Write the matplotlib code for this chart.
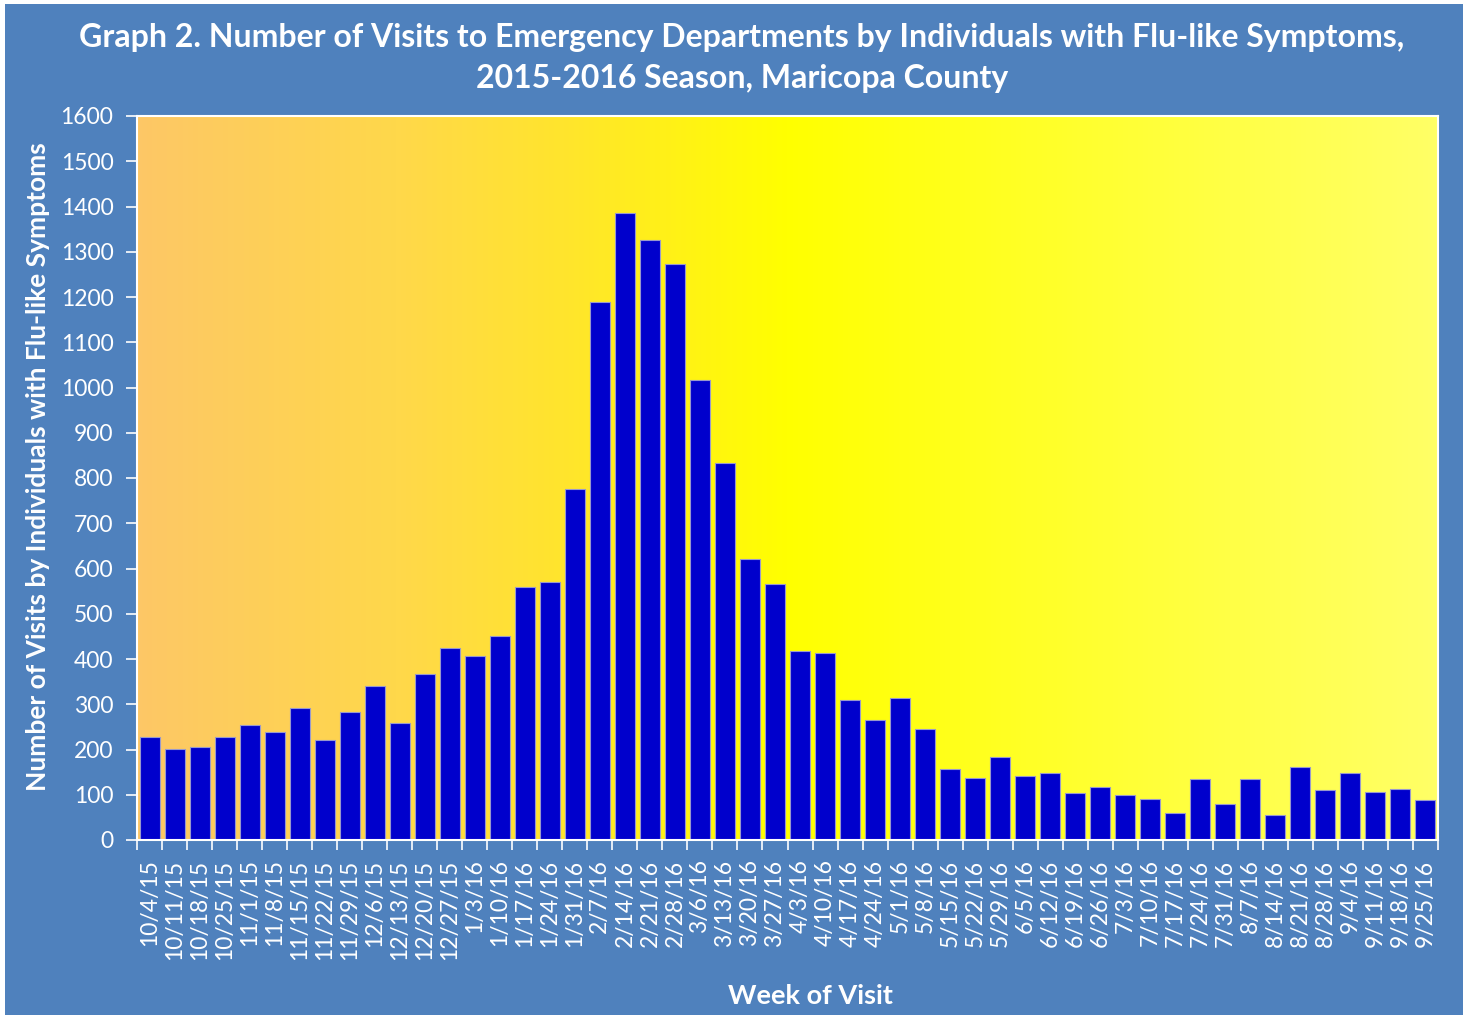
import numpy as np
import matplotlib
matplotlib.use("Agg")
import matplotlib.pyplot as plt
from matplotlib.colors import LinearSegmentedColormap
from matplotlib.patches import Rectangle

# weekly ED visits, 2015-2016 season
weeks = ["10/4/15", "10/11/15", "10/18/15", "10/25/15", "11/1/15", "11/8/15",
         "11/15/15", "11/22/15", "11/29/15", "12/6/15", "12/13/15", "12/20/15",
         "12/27/15", "1/3/16", "1/10/16", "1/17/16", "1/24/16", "1/31/16",
         "2/7/16", "2/14/16", "2/21/16", "2/28/16", "3/6/16", "3/13/16",
         "3/20/16", "3/27/16", "4/3/16", "4/10/16", "4/17/16", "4/24/16",
         "5/1/16", "5/8/16", "5/15/16", "5/22/16", "5/29/16", "6/5/16",
         "6/12/16", "6/19/16", "6/26/16", "7/3/16", "7/10/16", "7/17/16",
         "7/24/16", "7/31/16", "8/7/16", "8/14/16", "8/21/16", "8/28/16",
         "9/4/16", "9/11/16", "9/18/16", "9/25/16"]
visits = [228, 201, 205, 228, 254, 239, 292, 221, 283, 340, 259, 367,
          424, 407, 451, 559, 570, 776, 1189, 1386, 1326, 1273, 1017, 833,
          621, 566, 418, 413, 309, 265, 314, 245, 157, 137, 183, 141,
          148, 104, 117, 99, 90, 60, 135, 80, 135, 55, 161, 110,
          148, 106, 113, 88]

bg = "#4F81BD"
plt.rcParams['font.family'] = ['Lato', 'DejaVu Sans']

fig = plt.figure(figsize=(14.68, 10.15), dpi=100, facecolor="white")
# blue chart area with thin white margin
fig.patches.append(Rectangle((5 / 1468, 0), (1463 - 5) / 1468, 1 - 4 / 1015,
                             transform=fig.transFigure, facecolor=bg, edgecolor="none", zorder=-10))

ax = fig.add_axes([137 / 1468, 1 - 840 / 1015, (1438 - 137) / 1468, (840 - 116) / 1015])

# gradient fill of the plot area
grad = LinearSegmentedColormap.from_list("g", [(0.0, "#FDC766"), (0.2, "#FFD84A"),
                                               (0.33, "#FFE52C"), (0.5, "#FFFF00"),
                                               (1.0, "#FFFF66")])
ax.imshow(np.linspace(0, 1, 256)[None, :], aspect="auto", cmap=grad,
          extent=[0, 1, 0, 1], transform=ax.transAxes, zorder=0)

x = np.arange(len(weeks))
ax.bar(x, visits, width=0.8, color="#0000CC", edgecolor="#9999CC", linewidth=0.8, zorder=2)

ax.set_xlim(-0.5, len(weeks) - 0.5)
ax.set_ylim(0, 1600)
ax.set_yticks(range(0, 1601, 100))
ax.set_xticks(x)
ax.set_xticklabels(weeks, rotation=90)
ax.set_xticks(np.arange(-0.5, len(weeks), 1), minor=True)
ax.tick_params(axis="x", which="major", length=0, colors="white", labelsize=16.5, pad=14)
ax.tick_params(axis="x", which="minor", length=7, color="white", width=1.2)
ax.tick_params(axis="y", length=8, color="white", width=1.2, labelcolor="white", labelsize=16.5, pad=9)
for s in ax.spines.values():
    s.set_color("white")
    s.set_linewidth(1.5)

fig.text(38 / 1468, 1 - 467 / 1015, "Number of Visits by Individuals with Flu-like Symptoms",
         color="white", fontsize=19, fontweight="bold", rotation=90, ha="center", va="center")
fig.text(810 / 1468, 1 - 996 / 1015, "Week of Visit", color="white", fontsize=19.5,
         fontweight="bold", ha="center", va="center")
fig.text(742 / 1468, 1 - 58 / 1015,
         "Graph 2. Number of Visits to Emergency Departments by Individuals with Flu-like Symptoms,\n2015-2016 Season, Maricopa County",
         color="white", fontsize=23, fontweight="bold", ha="center", va="center", linespacing=1.5)

fig.savefig("out.png", dpi=100, facecolor="white")
